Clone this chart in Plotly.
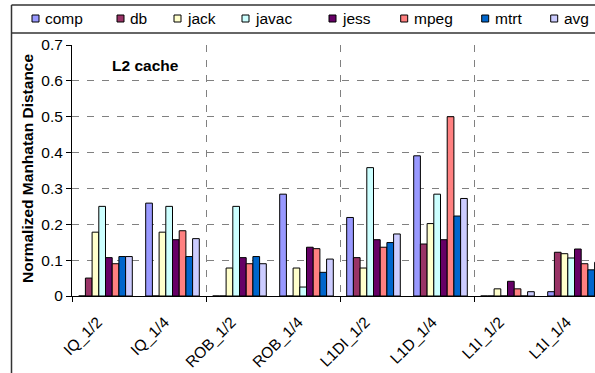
import plotly.graph_objects as go

# Benchmark configurations along the x axis
configs = ["IQ_1/2", "IQ_1/4", "ROB_1/2", "ROB_1/4", "L1DI_1/2", "L1D_1/4", "L1I_1/2", "L1I_1/4"]

# Normalized Manhattan distance per benchmark
comp = [0.0, 0.259, 0.0, 0.284, 0.219, 0.391, 0.0, 0.012]
db = [0.050, 0.0, 0.0, 0.0, 0.107, 0.145, 0.0, 0.122]
jack = [0.178, 0.178, 0.078, 0.078, 0.078, 0.202, 0.020, 0.118]
javac = [0.250, 0.250, 0.250, 0.025, 0.358, 0.284, 0.0, 0.106]
jess = [0.107, 0.157, 0.107, 0.136, 0.157, 0.157, 0.041, 0.131]
mpeg = [0.090, 0.182, 0.090, 0.132, 0.136, 0.500, 0.020, 0.090]
mtrt = [0.110, 0.110, 0.110, 0.066, 0.149, 0.223, 0.0, 0.073]
avg = [0.110, 0.160, 0.090, 0.103, 0.173, 0.272, 0.012, 0.094]

series_names = ["comp", "db", "jack", "javac", "jess", "mpeg", "mtrt", "avg"]
series_values = [comp, db, jack, javac, jess, mpeg, mtrt, avg]
series_colors = ["#9999FF", "#993366", "#FFFFCC", "#CCFFFF",
                 "#660066", "#FF8080", "#0066CC", "#CCCCFF"]

FONT = "Liberation Sans, Arial, sans-serif"
W, H = 595, 373
L, R, T, B = 72, 0, 45, 77
PW, PH = W - L - R, H - T - B


def px_x(p):
    return (p - L) / PW


def px_y(p):
    return (H - B - p) / PH


xs = list(range(len(configs)))

fig = go.Figure()
for name, vals, col in zip(series_names, series_values, series_colors):
    fig.add_trace(go.Bar(
        x=xs, y=vals, name=name,
        marker=dict(color=col, line=dict(color="black", width=1)),
        showlegend=False,
    ))

shapes = []
annotations = []

# Legend row inside the top frame
legend_text_x = [43, 128, 185, 253, 340, 411.7, 492.7, 561.7]
legend_y = 18.5
for name, col, tx in zip(series_names, series_colors, legend_text_x):
    shapes.append(dict(
        type="rect", xref="paper", yref="paper",
        x0=px_x(tx - 11), x1=px_x(tx - 4),
        y0=px_y(legend_y + 3.5), y1=px_y(legend_y - 3.5),
        fillcolor=col, line=dict(color="black", width=1),
    ))
    annotations.append(dict(
        text=name, xref="paper", yref="paper",
        x=px_x(tx), y=px_y(legend_y), xanchor="left", yanchor="middle",
        showarrow=False, font=dict(family=FONT, size=15.5, color="black"),
    ))

# Outer frame lines
frame = dict(color="#333333", width=1.5)
shapes.append(dict(type="line", xref="paper", yref="paper",
                   x0=px_x(11.5), x1=px_x(11.5), y0=px_y(5), y1=px_y(380), line=frame))
shapes.append(dict(type="line", xref="paper", yref="paper",
                   x0=px_x(11.5), x1=px_x(620), y0=px_y(5), y1=px_y(5), line=frame))
shapes.append(dict(type="line", xref="paper", yref="paper",
                   x0=px_x(11.5), x1=px_x(620), y0=px_y(33), y1=px_y(33), line=frame))

# Panel label
annotations.append(dict(
    text="<b>L2 cache</b>", xref="paper", yref="paper",
    x=px_x(110), y=px_y(65), xanchor="left", yanchor="middle",
    showarrow=False, font=dict(family=FONT, size=15.5, color="black"),
))

# Y axis title
annotations.append(dict(
    text="<b>Normalized Manhatan Distance</b>", xref="paper", yref="paper",
    x=px_x(27), y=px_y(169), xanchor="center", yanchor="middle",
    textangle=-90, showarrow=False,
    font=dict(family=FONT, size=15.5, color="black"),
))

grid_color = "#808080"

fig.update_layout(
    width=W, height=H,
    margin=dict(l=L, r=R, t=T, b=B, autoexpand=False),
    paper_bgcolor="white", plot_bgcolor="white",
    barmode="group", bargap=0.2, bargroupgap=0.0,
    showlegend=False,
    font=dict(family=FONT, size=15.5, color="black"),
    shapes=shapes, annotations=annotations,
    xaxis=dict(
        range=[-0.5, 7.306],
        tickmode="array", tickvals=xs, ticktext=configs,
        tickangle=-45, ticks="", showgrid=False, zeroline=False,
        ticklabelstandoff=10, ticklabelshift=-8,
        showline=True, linecolor="black", linewidth=1,
        tickfont=dict(family=FONT, size=15.5, color="black"),
        minor=dict(
            tickmode="array", tickvals=[-0.5, 1.5, 3.5, 5.5, 7.5],
            ticks="outside", ticklen=5, tickcolor="black",
            showgrid=True, gridcolor=grid_color, griddash="7px,8px", gridwidth=1.2,
        ),
    ),
    yaxis=dict(
        range=[0, 0.7], dtick=0.1, tick0=0,
        tickformat="~g",
        showline=True, linecolor="black", linewidth=1,
        ticks="outside", ticklen=5, tickcolor="black",
        showgrid=True, gridcolor=grid_color, griddash="7px,8px", gridwidth=1.2,
        zeroline=False,
        tickfont=dict(family=FONT, size=15.5, color="black"),
    ),
)

fig.write_html("out.html")
